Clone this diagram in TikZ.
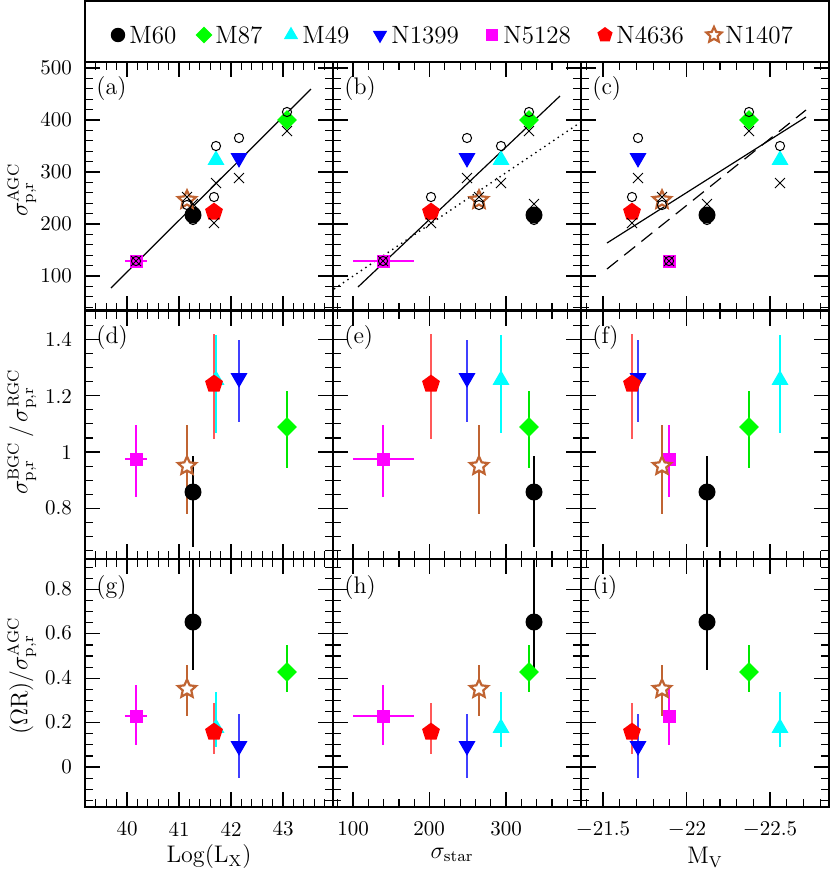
\documentclass[tikz,border=0pt]{standalone}
\usepackage{amsmath}
\usetikzlibrary{shapes.geometric}

\definecolor{gM87}{RGB}{0,255,0}
\definecolor{gM49}{RGB}{0,255,255}
\definecolor{gN1399}{RGB}{0,0,255}
\definecolor{gN5128}{RGB}{255,0,255}
\definecolor{gN4636}{RGB}{255,0,0}
\definecolor{gN1407}{RGB}{192,100,50}

\tikzset{
  frame/.style={line width=0.8pt},
  tick/.style={line width=0.6pt},
  ticklab/.style={font=\fontsize{10.5}{12}\selectfont},
  mkM60/.style={circle,fill=black,inner sep=0pt,minimum size=8.5pt},
  mkM87/.style={diamond,fill=gM87,inner sep=0pt,minimum size=10pt},
  mkM49/.style={regular polygon,regular polygon sides=3,fill=gM49,inner sep=0pt,minimum size=9.8pt},
  mkN1399/.style={regular polygon,regular polygon sides=3,shape border rotate=180,fill=gN1399,inner sep=0pt,minimum size=9.8pt},
  mkN5128/.style={rectangle,fill=gN5128,inner sep=0pt,minimum size=6.5pt},
  mkN4636/.style={regular polygon,regular polygon sides=5,fill=gN4636,inner sep=0pt,minimum size=9.4pt},
  mkN1407/.style={star,star points=5,star point ratio=2.1,draw=gN1407,fill=white,line width=1.1pt,inner sep=0pt,minimum size=9.5pt},
  eM60/.style={draw=black,line width=0.7pt},
  eM87/.style={draw=gM87!85!black!60!gM87,line width=0.7pt},
  eM49/.style={draw=gM49,line width=0.7pt},
  eN1399/.style={draw=gN1399!75!white,line width=0.7pt},
  eN5128/.style={draw=gN5128,line width=0.7pt},
  eN4636/.style={draw=gN4636!65!white,line width=0.7pt},
  eN1407/.style={draw=gN1407,line width=0.6pt},
  obs/.style={circle,draw=black,line width=0.5pt,inner sep=0pt,minimum size=4.6pt},
}

% ticks along x for one column: ref, step, kmin, kmax, major every
\newcommand\colticks[5]{%
  \foreach \k in {#3,...,#4}{
    \pgfmathsetmacro\tx{#1+\k*#2}
    \pgfmathsetmacro\tl{mod(\k,#5)==0 ? 15 : 8}
    \foreach \ty in {62,311,559} \draw[tick] (\tx,\ty) -- ++(0,\tl);
    \foreach \ty in {311,559,807} \draw[tick] (\tx,\ty) -- ++(0,-\tl);
  }}
% ticks along y for one row
\newcommand\rowticks[5]{%
  \foreach \k in {#3,...,#4}{
    \pgfmathsetmacro\ty{#1-\k*#2}
    \pgfmathsetmacro\tl{mod(\k,#5)==0 ? 15 : 8}
    \foreach \tx in {85,333,581} \draw[tick] (\tx,\ty) -- ++(\tl,0);
    \foreach \tx in {333,581,829} \draw[tick] (\tx,\ty) -- ++(-\tl,0);
  }}

\def\galaxies{%
  M60/193/534/707/215/220/204/492/456/547/622/559/670,
  M87/287/529/749/120/112/131/427/391/468/672/645/692,
  M49/216/501/780/160/146/183/380/335/433/728/692/747,
  N1399/239/467/638/158/138/178/378/340/422/746/714/778,
  N5128/136/383/669/261/261/261/459/425/497/716/685/745,
  N1407/187/479/662/200/205/197/466/425/514/689/665/716,
  N4636/214/431/632/212/197/223/384/334/439/732/703/754}

\begin{document}
\begin{tikzpicture}[x=0.5pt,y=-0.5pt]
  \useasboundingbox (0,0) rectangle (831,874);

  % legend
  \draw[frame] (85,1) rectangle (829,62);
  \foreach \s/\lx in {M60/118,M87/204,M49/291,N1399/380,N5128/492,N4636/605,N1407/714}{
    \node[mk\s,scale=0.85] (leg-\s) at (\lx,35) {};
    \node[anchor=west,font=\fontsize{12.5}{14}\selectfont,inner sep=0pt] (legtxt-\s) at (\lx+11,35) {\s};
  }

  % panels
  \foreach \px in {85,333,581}
    \foreach \py in {62,311,559}
      \draw[frame] (\px,\py) rectangle ++(248,248);
  \colticks{127}{10.4}{-4}{19}{5}
  \colticks{353}{15.3}{-1}{14}{5}
  \colticks{603}{16.7}{-1}{13}{5}
  \rowticks{276}{10.4}{-3}{20}{5}
  \rowticks{452}{14.1}{-7}{9}{4}
  \rowticks{767}{11.1}{-3}{18}{4}

  % panel labels
  \foreach \lab/\lx/\ly in {a/96/89,b/344/89,c/592/89,d/96/338,e/344/338,f/592/338,g/96/588,h/344/588,i/592/588}
    \node[anchor=west,inner sep=0pt,font=\fontsize{12}{14}\selectfont] (lab-\lab) at (\lx,\ly) {(\lab)};

  % fits
  \draw[line width=0.6pt] (111,288) -- (311,89);
  \draw[line width=0.6pt] (358,287) -- (560,96);
  \draw[line width=0.7pt,dotted] (334,289) -- (581,122);
  \draw[line width=0.6pt] (607,243) -- (806,117);
  \draw[line width=0.6pt,dash pattern=on 7pt off 4pt] (607,269) -- (806,110);

  % error bars
  \draw[eN5128] (125,261) -- (147,261);
  \draw[eN5128] (353,261) -- (414,261);
  \draw[eN5128] (125,459) -- (147,459);
  \draw[eN5128] (353,459) -- (414,459);
  \draw[eN5128] (125,716) -- (147,716);
  \draw[eN5128] (353,716) -- (414,716);
  \foreach \s/\xa/\xb/\xc/\ya/\yc/\yx/\yd/\ydl/\ydh/\yg/\ygl/\ygh in \galaxies
    \foreach \x in {\xa,\xb,\xc}{
      \draw[e\s] (\x,\ydl) -- (\x,\ydh);
      \draw[e\s] (\x,\ygl) -- (\x,\ygh);
    }

  % markers
  \foreach \s/\xa/\xb/\xc/\ya/\yc/\yx/\yd/\ydl/\ydh/\yg/\ygl/\ygh in \galaxies
    \foreach \x/\c in {\xa/1,\xb/2,\xc/3}{
      \node[mk\s] (\s-a\c) at (\x,\ya) {};
      \node[mk\s] (\s-d\c) at (\x,\yd) {};
      \node[mk\s] (\s-g\c) at (\x,\yg) {};
    }
  \foreach \s/\xa/\xb/\xc/\ya/\yc/\yx/\yd/\ydl/\ydh/\yg/\ygl/\ygh in \galaxies
    \foreach \x/\c in {\xa/1,\xb/2,\xc/3}{
      \node[obs] (\s-o\c) at (\x,\yc) {};
      \draw[line width=0.5pt] ({\x-5},{\yx-5}) -- ({\x+5},{\yx+5})
                              ({\x-5},{\yx+5}) -- ({\x+5},{\yx-5});
    }

  % tick labels
  \foreach \v/\tx in {40/127,41/179,42/231,43/283,100/353,200/429,300/506}
    \node[ticklab] (xl-\tx) at (\tx,829) {\v};
  \foreach \v/\tx in {21.5/603,22/687,22.5/770}
    \node[ticklab] (xl-\tx) at (\tx,829) {$-$\v};
  \foreach \v/\ty in {500/68,400/120,300/172,200/224,100/276,1.4/339,1.2/396,1/452,0.8/508,0.8/589,0.6/633,0.4/678,0.2/722,0/767}
    \node[ticklab,anchor=east] (yl-\ty) at (79,\ty) {\v};

  % axis titles
  \node[font=\fontsize{12}{14}\selectfont] (xt-1) at (209,857) {Log(L$_{\rm X}$)};
  \node[font=\fontsize{12}{14}\selectfont] (xt-2) at (452,855) {$\sigma_{\rm star}$};
  \node[font=\fontsize{12}{14}\selectfont] (xt-3) at (705,857) {M$_{\rm V}$};
  \node[rotate=90,font=\fontsize{12}{14}\selectfont] (yt-1) at (22,190) {$\sigma^{\rm AGC}_{\rm p,r}$};
  \node[rotate=90,font=\fontsize{12}{14}\selectfont] (yt-2) at (22,432) {$\sigma^{\rm BGC}_{\rm p,r}\,/\,\sigma^{\rm RGC}_{\rm p,r}$};
  \node[rotate=90,font=\fontsize{12}{14}\selectfont] (yt-3) at (22,676) {$(\Omega{\rm R})/\sigma^{\rm AGC}_{\rm p,r}$};
\end{tikzpicture}
\end{document}
